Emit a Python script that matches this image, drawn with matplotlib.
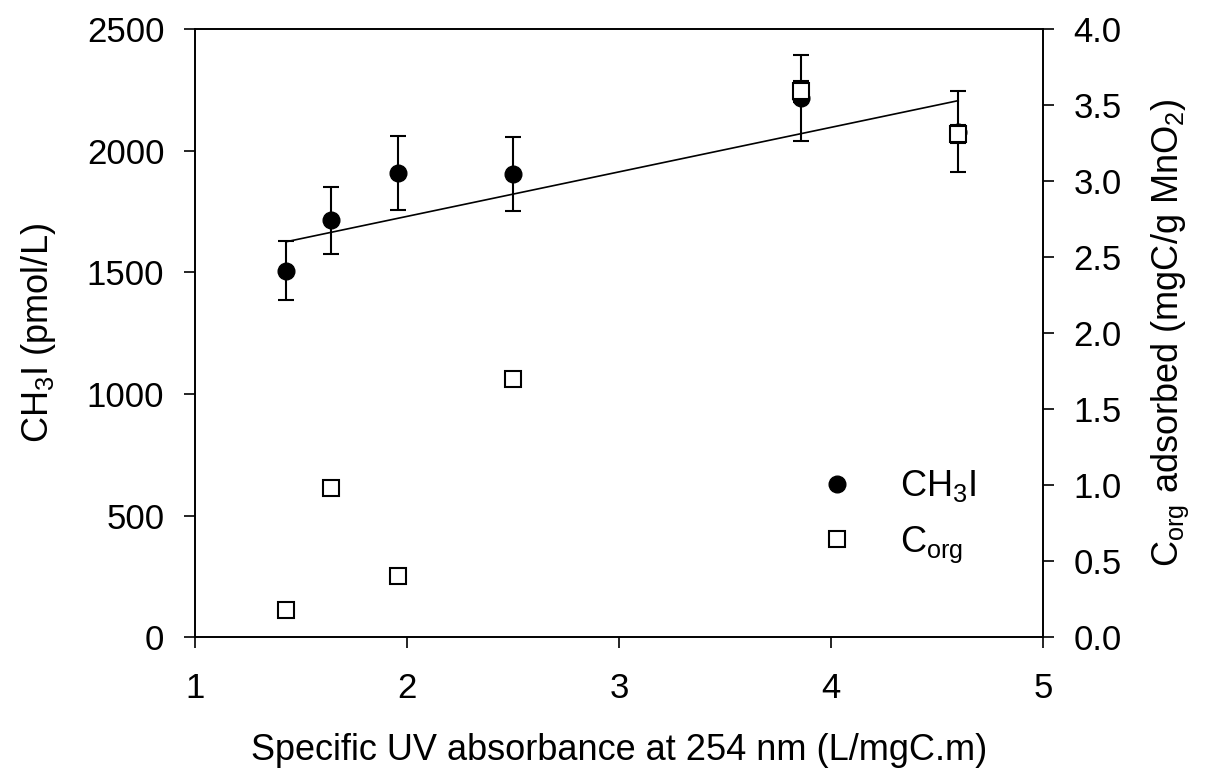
import numpy as np
import matplotlib
matplotlib.use("Agg")
import matplotlib.pyplot as plt

plt.rcParams['font.family'] = ['Liberation Sans', 'DejaVu Sans']
plt.rcParams['mathtext.default'] = 'regular'

# data
suva = np.array([1.43, 1.64, 1.96, 2.50, 3.86, 4.60])
ch3i = np.array([1507, 1713, 1908, 1902, 2217, 2078])
ch3i_err = np.array([120, 138, 153, 152, 177, 165])
corg = np.array([0.18, 0.98, 0.40, 1.70, 3.59, 3.31])
corg_err = np.array([0, 0, 0, 0, 0.07, 0.06])
fit_x = np.array([1.43, 4.60])
fit_y = np.array([1625, 2205])

fig = plt.figure(figsize=(12.1, 7.8), dpi=100)
ax = fig.add_axes([0.161, 0.183, 0.701, 0.78])
ax2 = ax.twinx()

ax.plot(fit_x, fit_y, color='black', lw=1.2, zorder=2)
ax.errorbar(suva, ch3i, yerr=ch3i_err, fmt='o', color='black', ms=12,
            capsize=6, elinewidth=1.5, capthick=1.5, zorder=3)

ax2.errorbar(suva, corg, yerr=corg_err, fmt='s', mfc='white', mec='black',
             mew=1.5, ms=11, ecolor='black', capsize=6, elinewidth=1.5,
             capthick=1.5, zorder=4)

ax.set_xlim(1, 5)
ax.set_ylim(0, 2500)
ax2.set_ylim(0, 4.0)
ax.set_xticks([1, 2, 3, 4, 5])
ax.set_yticks(np.arange(0, 2501, 500))
ax2.set_yticks(np.arange(0, 4.01, 0.5))
ax2.set_yticklabels([f"{v:.1f}" for v in np.arange(0, 4.01, 0.5)])

for a in (ax, ax2):
    a.tick_params(direction='out', length=8, width=1.2, labelsize=25, pad=14)
    for s in a.spines.values():
        s.set_linewidth(1.2)
ax.tick_params(axis='x', pad=17)

ax.set_xlabel("Specific UV absorbance at 254 nm (L/mgC.m)", fontsize=26, labelpad=20)
ax.set_ylabel("CH$_3$I (pmol/L)", fontsize=26, labelpad=21)
ax2.set_ylabel("C$_{org}$ adsorbed (mgC/g MnO$_2$)", fontsize=26, labelpad=20)

# legend
h1 = ax.plot([], [], 'o', color='black', ms=12)[0]
h2 = ax.plot([], [], 's', mfc='white', mec='black', mew=1.5, ms=11)[0]
ax2.legend([h1, h2], ["CH$_3$I", "C$_{org}$"], loc='lower left',
           bbox_to_anchor=(0.687, 0.066), frameon=False, fontsize=26,
           handletextpad=1.0, labelspacing=0.55, handlelength=1.5)

fig.savefig("out.png", dpi=100)
